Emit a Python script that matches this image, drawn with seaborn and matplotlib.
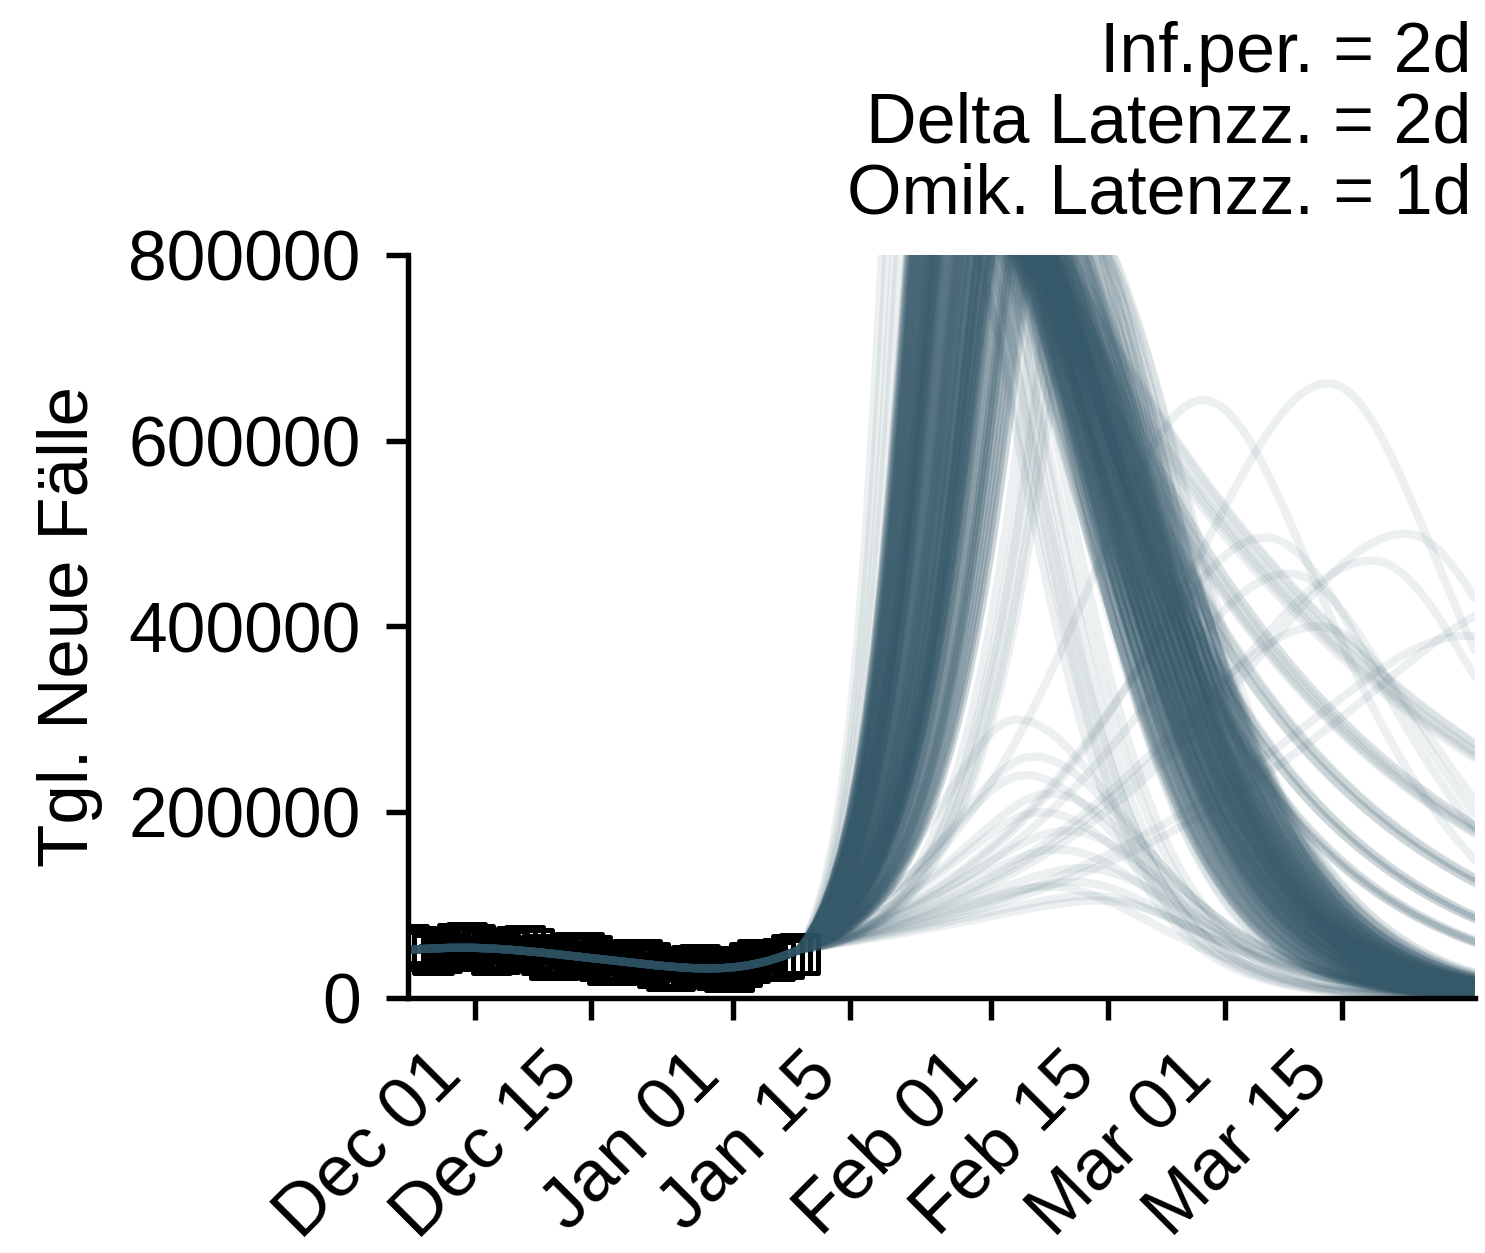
import numpy as np
import pandas as pd
import matplotlib
matplotlib.use("Agg")
import matplotlib.pyplot as plt
import matplotlib.dates as mdates
from matplotlib.ticker import FixedLocator, FixedFormatter
import seaborn as sns

# ---------------- data ----------------
obs_start = "2021-11-23"
# reported daily cases (thousands), Nov 23 .. Jan 9
obs_k = [58.0, 55.5, 51.0, 47.4, 48.7, 54.0, 58.1, 60.1,
         57.0, 51.7, 47.3, 47.8, 52.2, 55.5, 56.7, 52.9, 47.0, 42.0,
         42.0, 46.0, 49.0, 49.0, 45.5, 40.0, 36.0, 36.0, 39.0, 41.5,
         41.5, 38.0, 33.5, 29.7, 29.5, 32.8, 35.3, 36.0, 33.9, 30.5, 28.4,
         29.1, 34.2, 38.6, 41.4, 41.6, 40.7, 42.2, 46.6, 47.4]
# model fit through the observed period (thousands)
fit_k = [52.0, 52.5, 53.0, 53.4, 53.7, 54.0, 54.1, 54.1,
         54.0, 53.7, 53.3, 52.8, 52.2, 51.5, 50.7, 49.9, 49.0, 48.0,
         47.0, 46.0, 45.0, 44.0, 43.0, 42.0, 41.0, 40.0, 39.0, 38.0,
         37.0, 36.0, 35.0, 34.2, 33.5, 32.8, 32.3, 32.0, 31.9, 32.0, 32.4,
         33.1, 34.2, 35.6, 37.4, 39.6, 42.2, 45.2, 48.6, 52.4]

# projected scenarios (days after Jan 9)
# main family: Omicron growth rate, Omicron share on Jan 9, peak (thousands),
# day back under 428k, final decay rate
main_a = [0.22, 0.21, 0.20, 0.195, 0.19, 0.18, 0.175, 0.17, 0.16, 0.15, 0.14]
main_f = [1.0, 0.93, 0.86, 0.8, 0.74, 0.68, 0.62, 0.57, 0.52, 0.48, 0.45]
main_P = [960, 945, 930, 915, 900, 890, 880, 870, 860, 850, 845]
main_t428 = [38, 38.8, 39.6, 40.4, 41.2, 42, 42.8, 43.6, 44.4, 45.2, 46]
main_b = [0.2, 0.19, 0.185, 0.18, 0.17, 0.165, 0.16, 0.15, 0.145, 0.14, 0.135]
main_a_jit = [-0.0075, -0.005, -0.0025, 0.0, 0.0025, 0.005, 0.0075]
main_P_mult = [0.96, 1.02, 1.08]
main_t428_jit = [-1.5, 0.0, 1.5]
delta_decay = 0.04

fast_a = [0.30, 0.28, 0.26, 0.245]
fast_P = [1100, 1150, 1050, 1200]
fast_t428 = [36.0, 36.5, 37.0, 37.5]

# scenarios crossing the gap: early fallers and late risers
cross_a = [0.20, 0.19, 0.18, 0.17, 0.16, 0.20, 0.18, 0.15,
           0.13, 0.125, 0.12, 0.135, 0.128, 0.122]
cross_f = [1.0, 1.0, 1.0, 1.0, 1.0, 1.0, 1.0, 1.0,
           0.35, 0.35, 0.35, 0.35, 0.35, 0.35]
cross_P = [900, 950, 880, 920, 860, 1000, 840, 870,
           850, 820, 810, 900, 860, 830]
cross_t428 = [29, 30, 31, 32, 33, 31, 30, 34,
              47, 48, 49, 46, 47.5, 48.5]
cross_b = 0.14

# low waves: peak day, peak height (thousands)
low_tp = [26, 28, 30, 32, 34, 29, 31, 33, 35, 27, 36, 30]
low_P = [300, 260, 220, 180, 140, 200, 160, 125, 110, 240, 105, 120]
low_sig = 13
low_b = 0.10

# slowly decaying scenarios
tail_a = [0.16, 0.155, 0.15, 0.158, 0.152, 0.165]
tail_P = [860, 840, 820, 880, 850, 900]
tail_b = [0.022, 0.03, 0.038, 0.047, 0.056]
tail_f = 0.6
tail_sig = 14

# late single waves: peak day, peak height (thousands)
late_tp = [63.4, 48.4, 72.7, 68.7, 55.9, 58.7, 62.3, 80, 88]
late_P = [662, 644, 500, 471, 496, 457, 400, 390, 430]
late_sig = 14.6
late_b = 0.07

x_ticks = ["2021-12-01", "2021-12-15", "2022-01-01", "2022-01-15",
           "2022-02-01", "2022-02-15", "2022-03-01", "2022-03-15"]
y_ticks = [0, 200000, 400000, 600000, 800000]
y_ticklabels = ["0", "200000", "400000", "600000", "800000"]
note = "Inf.per. = 2d\nDelta Latenzz. = 2d\nOmik. Latenzz. = 1d"

# ---------------- build trajectories ----------------
obs_dates = pd.date_range(obs_start, periods=len(obs_k))
proj_dates = pd.date_range(obs_dates[-1] + pd.Timedelta(days=1), "2022-03-31")
t_proj = np.arange(1, len(proj_dates) + 1, dtype=float)
y0 = fit_k[-1] * 1000.0
L428 = 428000.0


def rate_of(tp, P, start, wl):
    return np.log(P / start) / (np.sqrt(tp ** 2 + wl ** 2) - wl)


def wave(a, tp, P, sig, b, wl):
    """Wave growing at rate a, peaking at P on day tp."""
    wr = b * sig ** 2
    s = t_proj - tp
    g = np.where(s < 0, a * (np.sqrt(s ** 2 + wl ** 2) - wl),
                 b * (np.sqrt(s ** 2 + wr ** 2) - wr))
    return P * np.exp(-g)


def scenario(a, P_k, t428, b, f=1.0, wl=2.5, cap=20.0, sig=None):
    """Declining Delta share plus an Omicron wave starting at share f."""
    P = P_k * 1000.0
    o0 = f * y0
    tp = np.sqrt((np.log(P / o0) / a + wl) ** 2 - wl ** 2)
    if sig is None:
        sig = cap if P <= L428 * 1.05 else min(cap, (t428 - tp) / np.sqrt(2 * np.log(P / L428)))
    omicron = wave(a, tp, P, max(sig, 6.0), b, wl)
    delta = (1.0 - f) * y0 * np.exp(-delta_decay * t_proj)
    return omicron + delta


curves = []
for i, (a, f, P, t4, b) in enumerate(zip(main_a, main_f, main_P, main_t428, main_b)):
    for j, da in enumerate(main_a_jit):
        for k, pm in enumerate(main_P_mult):
            dj = main_t428_jit[(i + j + k) % len(main_t428_jit)]
            curves.append(scenario(a + da, P * pm, t4 + dj, b, f))
for a, P, t4 in zip(fast_a, fast_P, fast_t428):
    curves.append(scenario(a, P, t4, 0.18))
for a, f, P, t4 in zip(cross_a, cross_f, cross_P, cross_t428):
    curves.append(scenario(a, P, t4, cross_b, f))
for tp, P in zip(low_tp, low_P):
    curves.append(wave(rate_of(tp, P * 1000.0, y0, 8.0), tp, P * 1000.0, low_sig, low_b, 8.0))
for a, P in zip(tail_a, tail_P):
    for b in tail_b:
        curves.append(scenario(a, P, 0.0, b, tail_f, sig=tail_sig))
for tp, P in zip(late_tp, late_P):
    curves.append(wave(rate_of(tp, P * 1000.0, y0, 15.0), tp, P * 1000.0, late_sig, late_b, 15.0))

all_dates = list(obs_dates) + list(proj_dates)
fit_vals = np.array(fit_k) * 1000.0
frames = []
for i, proj in enumerate(curves):
    vals = np.concatenate([fit_vals, proj])
    frames.append(pd.DataFrame({"date": all_dates, "cases": vals, "run": i}))
traj = pd.concat(frames, ignore_index=True)
obs = pd.DataFrame({"date": obs_dates, "cases": np.array(obs_k) * 1000.0})

# ---------------- plot ----------------
sns.set_style("ticks")
plt.rcParams["font.family"] = ["Liberation Sans", "DejaVu Sans"]
for key in ["text.color", "axes.labelcolor", "xtick.color", "ytick.color",
            "axes.edgecolor"]:
    plt.rcParams[key] = "black"
color = "#36596a"

fig = plt.figure(figsize=(4.95, 4.1767), dpi=300)
ax = fig.add_axes([0.2747, 0.2035, 0.7185, 0.593])

sns.scatterplot(data=obs, x="date", y="cases", marker="s", s=80, ax=ax,
                legend=False, zorder=2.1)
pts = ax.collections[-1]
pts.set_facecolor("none")
pts.set_edgecolor("black")
pts.set_linewidth(1.2)

sns.lineplot(data=traj, x="date", y="cases", units="run", estimator=None,
             color=color, alpha=0.09, lw=2.0, ax=ax, legend=False, zorder=2.2)

ax.set_xlim(obs_dates[0], pd.Timestamp("2022-03-31"))
ax.set_ylim(0, 800000)
ax.xaxis.set_major_locator(FixedLocator(mdates.date2num(pd.to_datetime(x_ticks))))
ax.xaxis.set_major_formatter(mdates.DateFormatter("%b %d"))
ax.yaxis.set_major_locator(FixedLocator(y_ticks))
ax.yaxis.set_major_formatter(FixedFormatter(y_ticklabels))
ax.tick_params(axis="both", length=5.3, width=1.3, direction="out", color="black")
ax.tick_params(axis="y", labelsize=16.7, pad=6)
ax.tick_params(axis="x", labelsize=17.5, pad=5)
for lab in ax.get_xticklabels():
    lab.set_rotation(45)
    lab.set_ha("right")
for sp in ["left", "bottom"]:
    ax.spines[sp].set_linewidth(1.3)
sns.despine(ax=ax)
ax.set_xlabel("")
ax.set_ylabel("Tgl. Neue Fälle", fontsize=17, labelpad=6)
ax.text(0.997, 1.035, note, transform=ax.transAxes, ha="right", va="bottom",
        fontsize=16.8, linespacing=1.1)

fig.savefig("out.png", dpi=300)
